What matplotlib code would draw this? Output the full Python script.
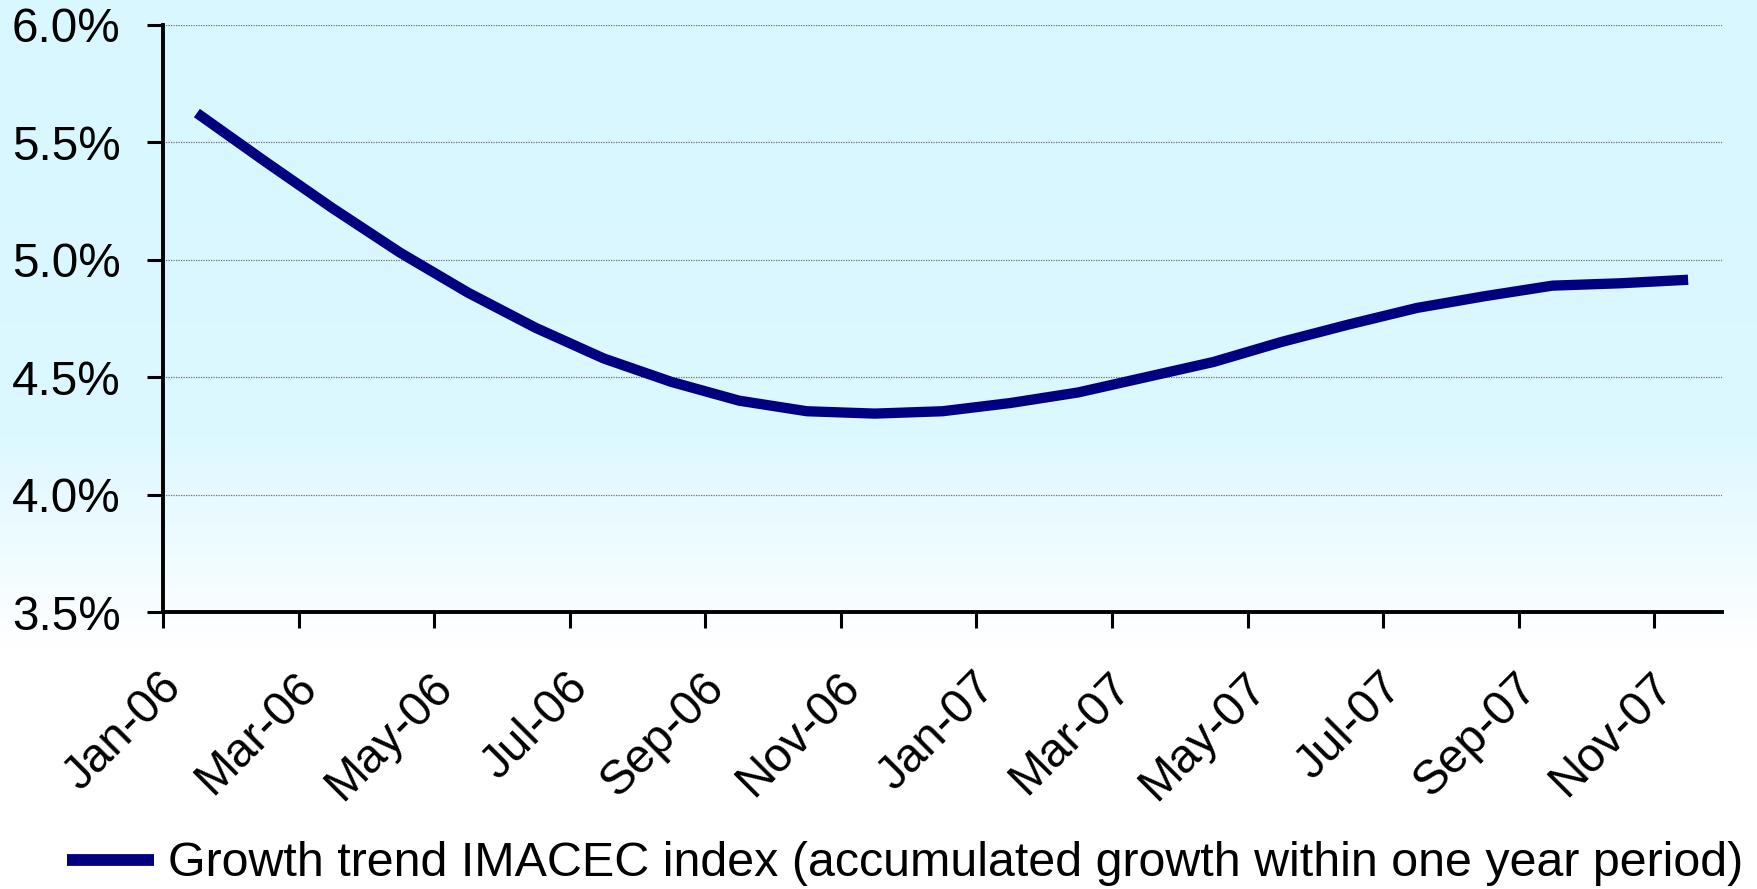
import numpy as np
import matplotlib
matplotlib.use("Agg")
import matplotlib.pyplot as plt
from matplotlib.lines import Line2D
from matplotlib.transforms import ScaledTranslation
from matplotlib.ticker import FixedLocator, FuncFormatter

plt.rcParams['font.family'] = ['Liberation Sans', 'DejaVu Sans']

# Monthly trend of the IMACEC index, accumulated growth over one year (%)
months = ['Jan-06', 'Feb-06', 'Mar-06', 'Apr-06', 'May-06', 'Jun-06',
          'Jul-06', 'Aug-06', 'Sep-06', 'Oct-06', 'Nov-06', 'Dec-06',
          'Jan-07', 'Feb-07', 'Mar-07', 'Apr-07', 'May-07', 'Jun-07',
          'Jul-07', 'Aug-07', 'Sep-07', 'Oct-07', 'Nov-07']
growth = [5.625, 5.42, 5.22, 5.03, 4.86, 4.71,
          4.58, 4.48, 4.40, 4.355, 4.345, 4.355,
          4.39, 4.435, 4.50, 4.565, 4.65, 4.725,
          4.795, 4.845, 4.89, 4.90, 4.915]
series_label = 'Growth trend IMACEC index (accumulated growth within one year period)'
y_ticks = [3.5, 4.0, 4.5, 5.0, 5.5, 6.0]

W, H, DPI = 1758, 889, 100
fig = plt.figure(figsize=(W / DPI, H / DPI), dpi=DPI)
fig.patch.set_facecolor('white')

# Soft cyan backdrop fading to white towards the bottom
bg = fig.add_axes([0, 0, 1, 1], zorder=-10)
bg.axis('off')
rows = np.arange(H)
top_col = np.array([216, 247, 255]) / 255
mid_col = np.array([220, 248, 255]) / 255
white = np.array([1.0, 1.0, 1.0])
t1 = np.clip(rows / 430.0, 0, 1)[:, None]
t2 = np.clip((rows - 430.0) / (650.0 - 430.0), 0, 1)[:, None]
grad = top_col * (1 - t1) + mid_col * t1
grad = grad * (1 - t2) + white * t2
bg.imshow(grad[:, None, :], aspect='auto', extent=[0, 1, 0, 1],
          origin='upper', interpolation='bilinear')
bg.set_xlim(0, 1)
bg.set_ylim(0, 1)

left, right = 163 / W, 1722 / W
bottom, top = 1 - 612 / H, 1 - 25 / H
ax = fig.add_axes([left, bottom, right - left, top - bottom])
ax.set_facecolor('none')

x = np.arange(len(months))
line, = ax.plot(x, growth, color='#000080', lw=7.4,
                solid_capstyle='butt', solid_joinstyle='miter',
                label=series_label, zorder=3)

ax.set_xlim(-0.5, len(months) - 0.5)
ax.set_ylim(y_ticks[0], y_ticks[-1])

for side in ('top', 'right'):
    ax.spines[side].set_visible(False)
for side in ('left', 'bottom'):
    ax.spines[side].set_linewidth(2.8)
    ax.spines[side].set_color('black')
    ax.spines[side].set_zorder(4)

# Y axis
ax.set_yticks(y_ticks)
ax.yaxis.set_major_formatter(FuncFormatter(lambda v, p: f'{v:.1f}%'))
ax.tick_params(axis='y', direction='out', length=11.5, width=2.2,
               pad=19, labelsize=34.3, colors='black')
ax.yaxis.grid(True, linestyle=(0, (1, 1)), color='#6f6f6f', lw=0.9)
ax.set_axisbelow(True)

# X axis: tick marks between every second category, labels on the categories
label_pos = x[::2]
ax.set_xticks(label_pos)
ax.set_xticklabels([months[i] for i in label_pos])
ax.xaxis.set_minor_locator(FixedLocator(np.arange(-0.5, len(months) - 0.5, 2)))
ax.tick_params(axis='x', which='major', length=0, pad=38, labelsize=34.3)
ax.tick_params(axis='x', which='minor', direction='out', length=11.5, width=2.2)
shift = ScaledTranslation(-38 / DPI, 0, fig.dpi_scale_trans)
for lab in ax.get_xticklabels():
    lab.set_rotation(45)
    lab.set_ha('right')
    lab.set_va('top')
    lab.set_rotation_mode('anchor')
    lab.set_transform(lab.get_transform() + shift)

# Legend below the chart
fig.legend(handles=[Line2D([], [], color='#000080', lw=8.5, solid_capstyle='butt')],
           labels=[series_label], loc='center left',
           bbox_to_anchor=(67 / W, 1 - 864 / H), frameon=False,
           fontsize=34.8, handlelength=1.80, handletextpad=0.29,
           borderpad=0, borderaxespad=0)

fig.savefig('out.png', dpi=DPI)
